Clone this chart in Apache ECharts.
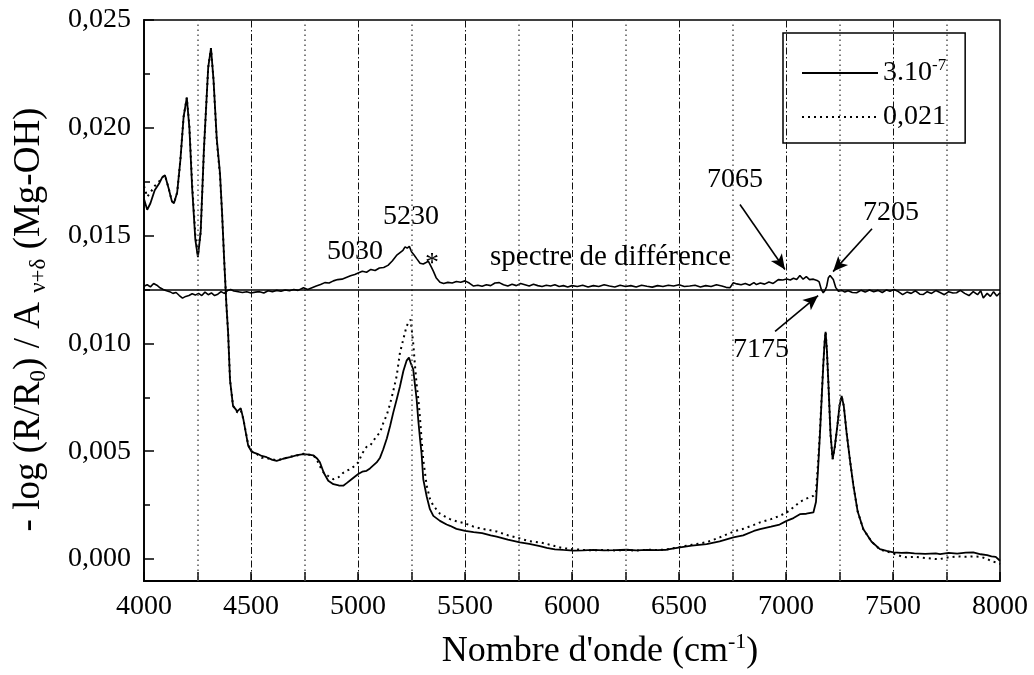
<!DOCTYPE html>
<html>
<head>
<meta charset="utf-8">
<script src="https://cdn.jsdelivr.net/npm/echarts@6/dist/echarts.min.js"></script>
<style>
html,body{margin:0;padding:0;background:#fff;}
#chart{width:1034px;height:675px;}
</style>
</head>
<body>
<div id="chart"></div>
<script>
// ---- Data ----
const wnMain = [4000,4015,4030,4050,4070,4085,4098,4115,4130,4140,4155,4170,4185,4200,4212,4225,4240,4252,4265,4280,4300,4313,4325,4340,4355,4365,4375,4385,4393,4402,4416,4436,4452,4464,4487,4503,4530,4550,4573,4600,4620,4650,4682,4715,4745,4770,4791,4810,4822,4840,4861,4885,4910,4931,4947,4970,5001,5020,5040,5056,5087,5103,5118,5135,5150,5165,5181,5196,5212,5227,5238,5246,5258,5266,5274,5282,5290,5297,5305,5321,5336,5352,5383,5414,5430,5460,5501,5540,5580,5620,5648,5700,5757,5800,5850,5882,5920,5960,6006,6050,6100,6150,6200,6256,6300,6350,6400,6442,6505,6560,6629,6690,6754,6800,6850,6879,6930,6970,7003,7035,7065,7095,7128,7140,7150,7159,7167,7174,7180,7185,7191,7198,7208,7218,7228,7240,7250,7260,7270,7283,7300,7315,7335,7361,7400,7439,7470,7502,7540,7564,7600,7650,7700,7720,7760,7800,7840,7875,7910,7940,7960,7980,8000];
const solidVals = [0.0167,0.0162,0.0165,0.0171,0.0174,0.0177,0.0178,0.0172,0.0166,0.0165,0.0170,0.0185,0.0205,0.0214,0.0200,0.0172,0.0148,0.0140,0.0152,0.0190,0.0228,0.0237,0.0222,0.0195,0.0179,0.0160,0.0138,0.0118,0.0105,0.0083,0.0071,0.00685,0.0070,0.0065,0.00525,0.00497,0.00488,0.00478,0.00472,0.00460,0.00455,0.00465,0.00472,0.00482,0.00486,0.00484,0.00481,0.00465,0.00449,0.0040,0.00363,0.00347,0.00341,0.0034,0.00352,0.0037,0.00394,0.00405,0.00409,0.0042,0.00448,0.0047,0.00509,0.0056,0.00617,0.0068,0.00741,0.0080,0.00872,0.0092,0.00934,0.0091,0.0088,0.0081,0.00741,0.0064,0.00556,0.0049,0.0037,0.0029,0.00231,0.0020,0.00177,0.0016,0.00154,0.0014,0.00131,0.00125,0.0012,0.0011,0.00104,0.0009,0.00077,0.0007,0.0006,0.00052,0.00045,0.00042,0.00039,0.0004,0.00042,0.0004,0.00041,0.00043,0.0004,0.00042,0.00041,0.00043,0.00054,0.00062,0.00069,0.00082,0.001,0.0011,0.0013,0.00139,0.0015,0.0016,0.00177,0.0019,0.00208,0.0021,0.00216,0.00264,0.0042,0.00587,0.0075,0.00895,0.0100,0.01054,0.0097,0.00818,0.0058,0.00463,0.0052,0.00617,0.0071,0.00756,0.0071,0.00587,0.0045,0.0034,0.0022,0.00139,0.0008,0.00046,0.00038,0.00031,0.00028,0.0003,0.00026,0.00024,0.00026,0.00023,0.00028,0.00025,0.0003,0.00031,0.00022,0.00018,0.00012,0.0001,-0.00008];
const dottedVals = [0.0173,0.0168,0.0170,0.0173,0.0175,0.0177,0.0178,0.0172,0.0166,0.0165,0.0170,0.0185,0.0205,0.0214,0.0201,0.0174,0.0150,0.0141,0.0152,0.0190,0.0228,0.0237,0.0222,0.0194,0.0178,0.0160,0.0138,0.0118,0.0105,0.0083,0.0071,0.0068,0.0069,0.0065,0.0053,0.0050,0.00485,0.00470,0.00468,0.00462,0.00458,0.00465,0.00475,0.00480,0.00488,0.00484,0.00482,0.00455,0.0043,0.0040,0.00385,0.0037,0.0038,0.0040,0.00409,0.0042,0.00448,0.0049,0.0052,0.00525,0.0057,0.00587,0.0063,0.0067,0.0072,0.0078,0.0085,0.00957,0.0102,0.0108,0.0110,0.0111,0.0100,0.0090,0.0081,0.00741,0.0065,0.00556,0.0046,0.0034,0.0028,0.00247,0.0021,0.00193,0.00185,0.00175,0.00165,0.0015,0.0014,0.00133,0.00128,0.0011,0.00095,0.00083,0.00077,0.0007,0.0006,0.0005,0.00046,0.00042,0.0004,0.00042,0.0004,0.00041,0.00039,0.00043,0.00042,0.00044,0.00056,0.00066,0.00078,0.001,0.00127,0.0014,0.00158,0.0017,0.00185,0.002,0.00216,0.0024,0.00265,0.0028,0.00293,0.0031,0.0045,0.0060,0.0076,0.0090,0.0100,0.01054,0.0097,0.00818,0.0058,0.00463,0.0052,0.00617,0.0071,0.00756,0.0071,0.00587,0.0045,0.0034,0.0022,0.00139,0.0008,0.00044,0.00035,0.00025,0.00012,0.00008,0.0001,0.00005,0.0,0.0,0.00008,0.00012,0.0001,0.00012,0.0001,0.0,-0.0001,-0.00015,-0.00023];

const wnDiff = [4000,4015,4030,4045,4060,4075,4090,4105,4120,4135,4150,4165,4180,4195,4210,4225,4240,4255,4270,4285,4300,4315,4330,4345,4360,4375,4390,4405,4420,4440,4460,4480,4500,4520,4540,4560,4580,4600,4620,4640,4660,4680,4700,4720,4745,4765,4785,4805,4825,4845,4865,4885,4905,4925,4945,4965,4985,5001,5020,5040,5060,5080,5100,5120,5140,5160,5180,5195,5210,5220,5230,5240,5250,5262,5275,5290,5305,5318,5329,5340,5352,5365,5383,5400,5420,5440,5460,5480,5500,5520,5540,5560,5580,5600,5620,5640,5660,5680,5700,5720,5740,5760,5780,5800,5820,5840,5860,5880,5900,5920,5940,5960,5980,6000,6025,6050,6075,6100,6125,6150,6175,6200,6225,6250,6275,6300,6325,6350,6375,6400,6425,6450,6475,6500,6525,6550,6575,6600,6625,6650,6675,6700,6720,6738,6754,6770,6790,6810,6830,6850,6862,6880,6900,6920,6940,6964,6985,7003,7020,7035,7050,7065,7080,7095,7110,7128,7145,7155,7165,7174,7182,7190,7198,7206,7214,7221,7232,7245,7260,7275,7290,7310,7330,7350,7370,7390,7410,7430,7450,7470,7486,7505,7525,7545,7565,7585,7605,7625,7642,7660,7680,7700,7720,7740,7760,7780,7797,7815,7835,7855,7875,7895,7910,7922,7940,7955,7970,7985,8000];
const diffVals = [0.01265,0.01272,0.01262,0.01278,0.01270,0.01258,0.01250,0.01244,0.01240,0.01232,0.01236,0.01222,0.01210,0.01218,0.01222,0.01230,0.01224,0.01232,0.01222,0.01238,0.01226,0.01234,0.01222,0.01228,0.01240,0.01232,0.01245,0.01250,0.01243,0.01240,0.01236,0.01240,0.01234,0.01238,0.01240,0.01234,0.01244,0.01240,0.01246,0.01242,0.01248,0.01244,0.01250,0.01246,0.01258,0.01250,0.01258,0.01266,0.01273,0.01282,0.01280,0.01290,0.01296,0.01298,0.01306,0.01314,0.01320,0.01327,0.01335,0.01330,0.01343,0.01338,0.01350,0.01352,0.01362,0.01382,0.01408,0.01420,0.01432,0.01448,0.01442,0.01450,0.01425,0.01410,0.01392,0.01372,0.01368,0.01375,0.01381,0.01360,0.01335,0.01305,0.01284,0.01278,0.01283,0.01280,0.01287,0.01284,0.01290,0.01280,0.01266,0.01270,0.01265,0.01272,0.01268,0.01280,0.01282,0.01272,0.01266,0.01274,0.01268,0.01278,0.01272,0.01266,0.01274,0.01268,0.01264,0.01270,0.01266,0.01272,0.01264,0.01268,0.01262,0.01268,0.01264,0.01270,0.01262,0.01268,0.01264,0.01272,0.01266,0.01262,0.01270,0.01264,0.01268,0.01262,0.01270,0.01265,0.01261,0.01268,0.01264,0.01270,0.01266,0.01272,0.01264,0.01266,0.01270,0.01262,0.01268,0.01264,0.01272,0.01266,0.01260,0.01258,0.01281,0.01276,0.01272,0.01278,0.01270,0.01282,0.01273,0.01280,0.01275,0.01285,0.01278,0.01296,0.01294,0.01299,0.01294,0.01302,0.01296,0.01315,0.01298,0.01310,0.01296,0.01298,0.01292,0.01285,0.01250,0.01235,0.01245,0.01265,0.01305,0.01315,0.01312,0.01296,0.01260,0.01242,0.01246,0.01238,0.01244,0.01236,0.01235,0.01246,0.01238,0.01248,0.01240,0.01246,0.01236,0.01248,0.01242,0.01250,0.01240,0.01226,0.01238,0.01232,0.01244,0.01228,0.01227,0.01240,0.01232,0.01245,0.01236,0.01226,0.01240,0.01234,0.01235,0.01246,0.01232,0.01222,0.01240,0.01226,0.01244,0.01211,0.01232,0.01218,0.01240,0.01220,0.01235];

const diffBaseline = 0.0125;
const xMin = 4000, xMax = 8000;
const xTickLabels = [4000,4500,5000,5500,6000,6500,7000,7500,8000];
const yTickValues = [0,0.005,0.010,0.015,0.020,0.025];
const yMinorTickValues = [0.0025,0.0075,0.0125,0.0175,0.0225];
const dottedGridX = [4250,4750,5250,5750,6250,6750,7250,7750];
const dashGridX = [4500,5000,5500,6000,6500,7000,7500];

// annotations: [text, wavenumber, value]
const annotations = [
  ['5030', 4986, 0.01426],
  ['5230', 5248, 0.01588],
  ['*', 5346, 0.01370],
  ['7065', 6762, 0.01759],
  ['7205', 7491, 0.01606],
  ['7175', 6883, 0.00972]
];
const diffLabel = ['spectre de différence', 5617, 0.01398];
// arrows: [fromWn, fromVal, toWn, toVal]
const arrows = [
  [6785, 0.01644, 6995, 0.01343],
  [7402, 0.01532, 7220, 0.01333],
  [6949, 0.01056, 7150, 0.01222]
];

const FONT = "'Liberation Serif', 'Times New Roman', serif";
const zip = (xs, ys) => xs.map((x, i) => [x, ys[i]]);

const gridLines = []
  .concat(dottedGridX.map(x => ({xAxis: x, lineStyle: {type: [1.5, 3.5], color: '#555', width: 1.5}})))
  .concat(dashGridX.map(x => ({xAxis: x, lineStyle: {type: [7, 2.5, 1.5, 2.5], color: '#111', width: 1}})));

const chart = echarts.init(document.getElementById('chart'), null, {renderer: 'canvas'});
chart.setOption({
  animation: false,
  backgroundColor: '#fff',
  textStyle: {fontFamily: FONT, color: '#000'},
  grid: {left: 144, right: 34, top: 20, bottom: 93, show: true, borderColor: '#000', borderWidth: 1.5, backgroundColor: 'transparent'},
  legend: {
    left: 783, top: 33, orient: 'vertical',
    data: ['3.10-7', '0,021'],
    borderColor: '#000', borderWidth: 1.5, borderRadius: 0,
    padding: [24, 19, 12, 18],
    itemWidth: 76, itemHeight: 14, itemGap: 16,
    itemStyle: {opacity: 0},
    formatter: n => n === '3.10-7' ? '{a|3.10}{b|-7}' : '{a|0,021}',
    textStyle: {
      fontFamily: FONT, fontSize: 28, color: '#000',
      rich: {
        a: {fontFamily: FONT, fontSize: 28, lineHeight: 32, color: '#000'},
        b: {fontFamily: FONT, fontSize: 17, lineHeight: 14, verticalAlign: 'top', color: '#000'}
      }
    }
  },
  xAxis: {
    type: 'value', min: xMin, max: xMax, interval: 500,
    name: "{t|Nombre d'onde (cm}{p|-1}{t|)}",
    nameLocation: 'middle', nameGap: 50,
    nameTextStyle: {
      fontFamily: FONT, fontSize: 36, color: '#000', padding: [0, 0, 0, 56],
      rich: {
        t: {fontFamily: FONT, fontSize: 36, lineHeight: 42, color: '#000'},
        p: {fontFamily: FONT, fontSize: 22, lineHeight: 20, verticalAlign: 'top', color: '#000'}
      }
    },
    axisLine: {show: true, onZero: false, lineStyle: {color: '#000', width: 1.8}},
    axisTick: {show: true, inside: true, length: 9, lineStyle: {color: '#000', width: 1.5}},
    minorTick: {show: true, splitNumber: 2, length: 9, lineStyle: {color: '#000', width: 1.5}},
    axisLabel: {
      fontFamily: FONT, fontSize: 28, color: '#000', margin: 12,
      customValues: xTickLabels,
      formatter: v => String(v)
    },
    splitLine: {show: false}
  },
  yAxis: [{
    type: 'value', min: -0.00102, max: 0.025,
    name: '{t|- log (R/R}{s|0}{t|) / A }{s|ν+δ}{t| (Mg-OH)}',
    nameLocation: 'middle', nameRotate: 90, nameGap: 94,
    nameTextStyle: {
      fontFamily: FONT, fontSize: 37, color: '#000', padding: [0, 38, 0, 0],
      rich: {
        t: {fontFamily: FONT, fontSize: 37, lineHeight: 42, color: '#000'},
        s: {fontFamily: FONT, fontSize: 23, lineHeight: 22, verticalAlign: 'bottom', color: '#000'}
      }
    },
    axisLine: {show: true, onZero: false, lineStyle: {color: '#000', width: 1.8}},
    axisTick: {show: true, inside: true, length: 10, customValues: yTickValues, lineStyle: {color: '#000', width: 1.5}},
    axisLabel: {
      fontFamily: FONT, fontSize: 28, color: '#000', margin: 13,
      customValues: yTickValues,
      formatter: v => v.toFixed(3).replace('.', ',')
    },
    splitLine: {show: false}
  }, {
    type: 'value', min: -0.00102, max: 0.025, position: 'left', offset: 0,
    axisLine: {show: false},
    axisTick: {show: true, inside: true, length: 6, customValues: yMinorTickValues, lineStyle: {color: '#000', width: 1.5}},
    axisLabel: {show: false, customValues: yMinorTickValues},
    splitLine: {show: false}
  }],
  series: [
    {
      name: 'grid', type: 'line', data: [], z: 1, silent: true,
      markLine: {silent: true, symbol: 'none', label: {show: false}, animation: false, data: gridLines}
    },
    {
      name: '0,021', type: 'line', z: 3, showSymbol: false, symbol: 'none',
      data: zip(wnMain, dottedVals),
      lineStyle: {color: '#000', width: 2, type: [2, 4]},
      itemStyle: {color: '#000'}
    },
    {
      name: '3.10-7', type: 'line', z: 4, showSymbol: false, symbol: 'none',
      data: zip(wnMain, solidVals),
      lineStyle: {color: '#000', width: 1.8, type: 'solid'},
      itemStyle: {color: '#000'}
    },
    {
      name: 'diff', type: 'line', z: 4, showSymbol: false, symbol: 'none',
      data: zip(wnDiff, diffVals),
      lineStyle: {color: '#000', width: 1.6},
      itemStyle: {color: '#000'},
      markLine: {
        silent: true, animation: false, label: {show: false},
        symbol: ['none', 'arrow'], symbolSize: [10, 15],
        lineStyle: {color: '#000', width: 1.6, type: 'solid'},
        data: arrows.map(a => [{coord: [a[0], a[1]]}, {coord: [a[2], a[3]]}])
          .concat([[{coord: [xMin, diffBaseline], symbol: 'none'}, {coord: [xMax, diffBaseline], symbol: 'none'}]])
      },
      markPoint: {
        silent: true, animation: false, symbol: 'circle', symbolSize: 0,
        itemStyle: {color: 'transparent'},
        label: {show: true, position: 'inside', fontFamily: FONT, fontSize: 28, color: '#000'},
        data: annotations.map(a => ({coord: [a[1], a[2]], label: {formatter: a[0]}}))
          .concat([{coord: [diffLabel[1], diffLabel[2]], label: {formatter: diffLabel[0], align: 'left', position: 'right', distance: 0, fontSize: 29}}])
      }
    }
  ]
});
</script>
</body>
</html>
